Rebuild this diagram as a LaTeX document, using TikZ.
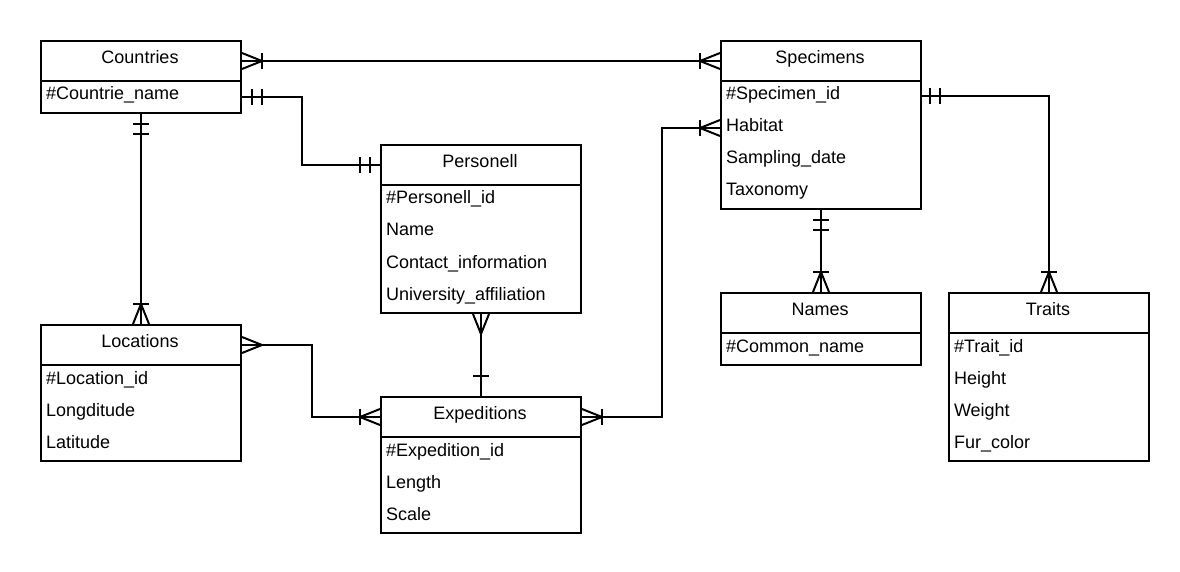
\documentclass[tikz,border=0pt]{standalone}
\usepackage{fontspec}
\setmainfont{Liberation Sans}
\begin{document}
\begin{tikzpicture}[x=1pt,y=1pt,
  line width=2pt, line join=miter,
  header/.style={draw, minimum width=200pt, minimum height=40pt, inner sep=0pt, anchor=north west},
  body/.style={draw, minimum width=200pt, inner sep=0pt, anchor=north west},
  title/.style={font=\fontsize{18}{20}\selectfont, anchor=base, inner sep=0pt},
  field/.style={font=\fontsize{18}{20}\selectfont, anchor=base west, inner sep=0pt},
  rel/.style={line width=2pt},
  many/.pic={\draw[rel] (0,8) -- (20,0) -- (0,-8);},
  onemany/.pic={\draw[rel] (0,8) -- (20,0) -- (0,-8); \draw[rel] (20,8) -- (20,-8);},
  mandone/.pic={\draw[rel] (10,8) -- (10,-8); \draw[rel] (20,8) -- (20,-8);},
  justone/.pic={\draw[rel] (20,8) -- (20,-8);}
]
\useasboundingbox (0,0) rectangle (1180,-572);

% ---------- entities ----------
% Countries
\node[header] (countries) at (40,-40) {};
\node[body, minimum height=32pt] (countriesB) at (40,-80) {};
\node[title] at (140,-63.5) {Countries};
\node[field] at (45,-100) {\#Countrie\_name};

% Specimens
\node[header] (specimens) at (720,-40) {};
\node[body, minimum height=128pt] (specimensB) at (720,-80) {};
\node[title] at (820,-63.5) {Specimens};
\node[field] at (725,-100) {\#Specimen\_id};
\node[field] at (725,-132) {Habitat};
\node[field] at (725,-164) {Sampling\_date};
\node[field] at (725,-196) {Taxonomy};
\coordinate (habitat) at (720,-128);
\coordinate (specimenid) at (920,-96);

% Personell
\node[header] (personell) at (380,-144) {};
\node[body, minimum height=128pt] (personellB) at (380,-184) {};
\node[title] at (480,-167.5) {Personell};
\node[field] at (385,-204) {\#Personell\_id};
\node[field] at (385,-236) {Name};
\node[field] at (385,-268) {Contact\_information};
\node[field] at (385,-300) {University\_affiliation};

% Locations
\node[header] (locations) at (40,-324) {};
\node[body, minimum height=96pt] (locationsB) at (40,-364) {};
\node[title] at (140,-347.5) {Locations};
\node[field] at (45,-384) {\#Location\_id};
\node[field] at (45,-416) {Longditude};
\node[field] at (45,-448) {Latitude};

% Expeditions
\node[header] (expeditions) at (380,-396) {};
\node[body, minimum height=96pt] (expeditionsB) at (380,-436) {};
\node[title] at (480,-419.5) {Expeditions};
\node[field] at (385,-456) {\#Expedition\_id};
\node[field] at (385,-488) {Length};
\node[field] at (385,-520) {Scale};

% Names
\node[header] (names) at (720,-292) {};
\node[body, minimum height=32pt] (namesB) at (720,-332) {};
\node[title] at (820,-315.5) {Names};
\node[field] at (725,-352) {\#Common\_name};

% Traits
\node[header] (traits) at (948,-292) {};
\node[body, minimum height=128pt] (traitsB) at (948,-332) {};
\node[title] at (1048,-315.5) {Traits};
\node[field] at (953,-352) {\#Trait\_id};
\node[field] at (953,-384) {Height};
\node[field] at (953,-416) {Weight};
\node[field] at (953,-448) {Fur\_color};

% ---------- relationships ----------
% Countries -- Specimens
\draw[rel] (countries.east) -- (specimens.west);
\pic at (countries.east) {onemany};
\pic[rotate=180] at (specimens.west) {onemany};

% Countries -- Personell
\draw[rel] (countriesB.east) -- ++(60,0) |- (personell.west);
\pic at (countriesB.east) {mandone};
\pic[rotate=180] at (personell.west) {mandone};

% Countries -- Locations
\draw[rel] (countriesB.south) -- (locations.north);
\pic[rotate=-90] at (countriesB.south) {mandone};
\pic[rotate=90] at (locations.north) {onemany};

% Locations -- Expeditions
\draw[rel] (locations.east) -- ++(70,0) |- (expeditions.west);
\pic at (locations.east) {many};
\pic[rotate=180] at (expeditions.west) {onemany};

% Personell -- Expeditions
\draw[rel] (personellB.south) -- (expeditions.north);
\pic[rotate=-90] at (personellB.south) {many};
\pic[rotate=90] at (expeditions.north) {justone};

% Expeditions -- Specimens
\draw[rel] (expeditions.east) -- ++(80,0) |- (habitat);
\pic at (expeditions.east) {onemany};
\pic[rotate=180] at (habitat) {onemany};

% Specimens -- Names
\draw[rel] (specimensB.south) -- (names.north);
\pic[rotate=-90] at (specimensB.south) {mandone};
\pic[rotate=90] at (names.north) {onemany};

% Specimens -- Traits
\draw[rel] (specimenid) -| (traits.north);
\pic at (specimenid) {mandone};
\pic[rotate=90] at (traits.north) {onemany};
\end{tikzpicture}
\end{document}
